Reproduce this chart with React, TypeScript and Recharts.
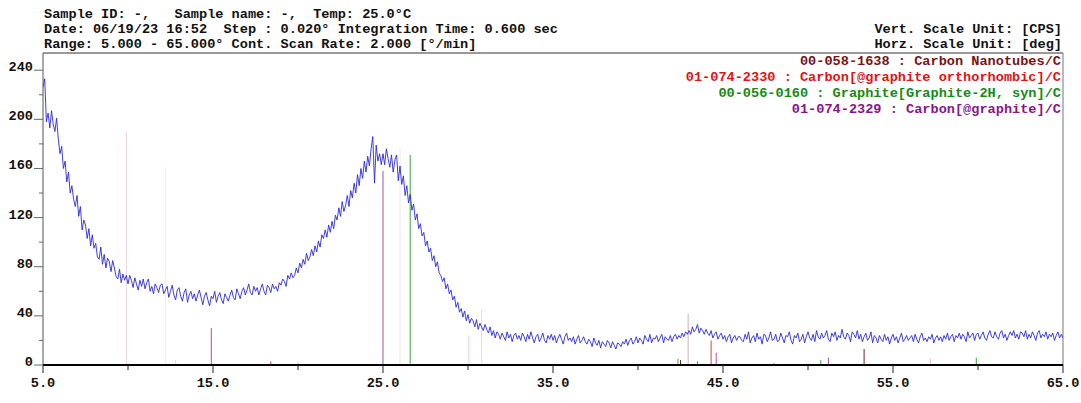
import React from 'react';
import { ComposedChart, Line, XAxis, YAxis, ReferenceLine } from 'recharts';

// Scan settings (2-theta start and reading spacing used for the transcribed intensities)
const SCAN_START = 5.0;
const SCAN_STEP = 0.1;

// Intensity [CPS], one row per degree (5.0 .. 64.9) plus the final 65.0 point
const intensity: number[] = [
  226, 233, 198, 205, 193, 207, 196, 190, 201, 184,
  172, 178, 160, 166, 149, 157, 140, 146, 135, 129,
  138, 121, 129, 110, 118, 114, 103, 111, 97, 106,
  95, 99, 88, 86, 96, 82, 90, 79, 87, 84,
  76, 85, 79, 72, 70, 78, 67, 74, 69, 73,
  66, 73, 69, 63, 71, 66, 61, 69, 64, 70,
  62, 67, 70, 60, 64, 58, 66, 63, 59, 65,
  66, 58, 61, 64, 55, 60, 65, 57, 53, 61,
  63, 56, 52, 59, 62, 51, 57, 60, 54, 58,
  52, 57, 61, 55, 49, 56, 59, 53, 48, 56,
  54, 60, 51, 56, 59, 53, 50, 58, 55, 52,
  57, 61, 55, 53, 62, 58, 54, 60, 63, 57,
  61, 66, 59, 57, 64, 60, 63, 57, 62, 66,
  60, 57, 65, 63, 59, 66, 62, 64, 60, 67,
  65, 70, 68, 64, 73, 70, 75, 71, 73, 79,
  75, 83, 79, 86, 82, 91, 85, 88, 94, 89,
  97, 92, 101, 96, 106, 103, 110, 104, 114, 108,
  117, 111, 122, 118, 128, 121, 133, 125, 130, 138,
  129, 142, 136, 148, 140, 155, 146, 160, 152, 166,
  157, 170, 162, 176, 186, 148, 179, 166, 172, 163,
  172, 163, 176, 168, 161, 171, 157, 167, 171, 150,
  162, 147, 154, 138, 146, 132, 139, 126, 131, 118,
  123, 111, 115, 105, 108, 97, 101, 92, 95, 85,
  89, 80, 84, 75, 73, 68, 71, 62, 66, 58,
  61, 53, 56, 47, 51, 43, 46, 39, 44, 36,
  41, 34, 38, 36, 31, 37, 29, 34, 31, 28,
  33, 29, 26, 31, 24, 28, 22, 27, 25, 21,
  26, 23, 20, 27, 22, 25, 19, 24, 26, 21,
  24, 20, 26, 23, 19, 25, 21, 27, 22, 18,
  23, 25, 19, 22, 26, 20, 18, 24, 21, 25,
  20, 24, 18, 22, 25, 21, 17, 23, 26, 20,
  22, 19, 23, 17, 21, 24, 18, 20, 23, 19,
  17, 21, 19, 15, 22, 18, 16, 20, 14, 19,
  17, 15, 20, 18, 14, 19, 16, 13, 18, 17,
  15, 19, 17, 21, 16, 20, 22, 17, 19, 23,
  18, 22, 20, 17, 24, 21, 19, 25, 18, 22,
  21, 24, 19, 22, 25, 18, 23, 21, 20, 24,
  19, 23, 25, 21, 24, 22, 26, 23, 27, 25,
  28, 25, 31, 27, 29, 33, 26, 30, 28, 25,
  29, 26, 24, 28, 22, 25, 27, 21, 24, 26,
  21, 24, 19, 23, 25, 18, 22, 24, 20, 23,
  23, 20, 19, 25, 21, 27, 18, 22, 24, 19,
  26, 21, 23, 17, 25, 24, 19, 22, 27, 20,
  21, 25, 19, 20, 26, 22, 18, 24, 23, 27,
  20, 17, 24, 22, 26, 19, 21, 25, 18, 23,
  27, 22, 20, 25, 19, 28, 23, 21, 26, 22,
  24, 28, 21, 19, 26, 23, 27, 20, 24, 22,
  29, 23, 21, 26, 24, 19, 27, 25, 22, 28,
  21, 25, 19, 23, 26, 20, 22, 27, 18, 24,
  22, 18, 24, 21, 19, 25, 20, 23, 17, 22,
  25, 20, 23, 18, 22, 26, 19, 21, 24, 20,
  22, 24, 19, 25, 21, 18, 23, 26, 20, 22,
  19, 23, 21, 25, 18, 22, 24, 20, 23, 19,
  24, 21, 26, 20, 23, 25, 19, 24, 22, 26,
  21, 25, 23, 19, 27, 22, 24, 26, 20, 25,
  26, 21, 24, 27, 22, 20, 25, 28, 23, 22,
  27, 23, 21, 26, 28, 22, 25, 20, 24, 27,
  24, 28, 22, 25, 21, 27, 26, 23, 28, 21,
  25, 22, 27, 24, 20, 26, 28, 22, 25, 23,
  27, 21, 25, 23, 26, 20, 24, 27, 22, 25,
  22,
];

// Reference card stick patterns: [2theta, intensity]
const cntSticks: [number, number][] = [[42.5, 4], [53.3, 13]];
const orthoSticks: [number, number][] = [[18.4, 3], [43.5, 3], [44.3, 20], [48.0, 1.5]];
const graphite2HSticks: [number, number][] = [[26.6, 171], [42.35, 5], [50.75, 4], [59.9, 6]];
const graphiteSticks: [number, number][] = [[14.9, 30], [25.0, 158], [44.6, 10], [51.2, 6]];
const faintSticks: [number, number, string][] = [
  [9.9, 190, '#ecd2e2'],
  [12.2, 161, '#f0eeee'],
  [12.8, 4, '#dddddd'],
  [20.0, 2, '#bbbbbb'],
  [26.0, 177, '#f2e4ea'],
  [30.05, 24, '#f0c8d8'],
  [30.8, 45, '#f2d6dc'],
  [42.95, 42, '#c8b2ba'],
  [57.2, 5, '#f0b8c8'],
];

const xTicks = [5, 10, 15, 20, 25, 30, 35, 40, 45, 50, 55, 60, 65];
const xLabelled = [5, 15, 25, 35, 45, 55, 65];
const yTicks = [0, 20, 40, 60, 80, 100, 120, 140, 160, 180, 200, 220, 240];
const yLabelled = [0, 40, 80, 120, 160, 200, 240];

const headerLeft = [
  'Sample ID: -,   Sample name: -,  Temp: 25.0°C',
  'Date: 06/19/23 16:52  Step : 0.020° Integration Time: 0.600 sec',
  'Range: 5.000 - 65.000° Cont. Scan Rate: 2.000 [°/min]',
];
const headerRight = ['Vert. Scale Unit: [CPS]', 'Horz. Scale Unit: [deg]'];
const cardLabels = [
  '00-058-1638 : Carbon Nanotubes/C',
  '01-074-2330 : Carbon[@graphite orthorhombic]/C',
  '00-056-0160 : Graphite[Graphite-2H, syn]/C',
  '01-074-2329 : Carbon[@graphite]/C',
];
const cardColors = ['#781414', '#e01414', '#148a14', '#8a148a'];
const stickColors = ['#7a2020', '#e04040', '#40a040', '#a850a8'];

const data = intensity.map((v, i) => ({ x: Math.round((SCAN_START + i * SCAN_STEP) * 100) / 100, y: v }));

const FONT = '"Liberation Mono", "DejaVu Sans Mono", monospace';

const XTick = (props: any) => {
  const { x, y, payload } = props;
  const major = xLabelled.includes(payload.value);
  return (
    <g>
      <line x1={x} y1={y} x2={x} y2={y + (major ? 8 : 5)} stroke="#222" strokeWidth={1} />
      {major && (
        <text x={x} y={y + 22} textAnchor="middle" fontFamily={FONT} fontSize={13.6} fontWeight="bold" fill="#111">
          {payload.value.toFixed(1)}
        </text>
      )}
    </g>
  );
};

const YTick = (props: any) => {
  const { x, y, payload } = props;
  const major = yLabelled.includes(payload.value);
  return (
    <g>
      <line x1={x} y1={y} x2={x - (major ? 9 : 4)} y2={y} stroke="#666" strokeWidth={1} />
      {major && (
        <text x={x - 10} y={y + 1} textAnchor="end" fontFamily={FONT} fontSize={13.6} fontWeight="bold" fill="#111">
          {payload.value}
        </text>
      )}
    </g>
  );
};

const textStyle: React.CSSProperties = {
  position: 'absolute',
  fontFamily: FONT,
  fontSize: 13.6,
  fontWeight: 'bold',
  lineHeight: '15px',
  whiteSpace: 'pre',
  color: '#111',
};

export default function App() {
  const sticks: { x: number; h: number; c: string }[] = [];
  faintSticks.forEach(([x, h, c]) => sticks.push({ x, h, c }));
  cntSticks.forEach(([x, h]) => sticks.push({ x, h, c: stickColors[0] }));
  orthoSticks.forEach(([x, h]) => sticks.push({ x, h, c: stickColors[1] }));
  graphite2HSticks.forEach(([x, h]) => sticks.push({ x, h, c: stickColors[2] }));
  graphiteSticks.forEach(([x, h]) => sticks.push({ x, h, c: stickColors[3] }));

  return (
    <div style={{ position: 'absolute', left: 0, top: 0, width: 1081, height: 403, background: '#fff', overflow: 'hidden' }}>
      <ComposedChart width={1081} height={403} data={data} margin={{ top: 53, right: 18, bottom: 0, left: 0 }}>
        <XAxis
          dataKey="x"
          type="number"
          domain={[5, 65]}
          ticks={xTicks}
          interval={0}
          height={38}
          tickSize={0}
          tickMargin={0}
          tickLine={false}
          tick={<XTick />}
          axisLine={{ stroke: '#000', strokeWidth: 2 }}
          allowDataOverflow
        />
        <YAxis
          type="number"
          domain={[0, 254]}
          ticks={yTicks}
          interval={0}
          width={43}
          tickSize={0}
          tickMargin={0}
          tickLine={false}
          tick={<YTick />}
          axisLine={{ stroke: '#555', strokeWidth: 1 }}
          allowDataOverflow
        />
        <ReferenceLine y={254} stroke="#333" strokeWidth={1} />
        <ReferenceLine x={65} stroke="#777" strokeWidth={1} />
        {sticks.map((s, i) => (
          <ReferenceLine
            key={i}
            segment={[{ x: s.x, y: 0 }, { x: s.x, y: s.h }]}
            stroke={s.c}
            strokeWidth={1}
            ifOverflow="visible"
          />
        ))}
        <Line
          type="linear"
          dataKey="y"
          stroke="#2a2ad8"
          strokeWidth={0.9}
          dot={false}
          isAnimationActive={false}
        />
      </ComposedChart>
      {headerLeft.map((t, i) => (
        <div key={'hl' + i} style={{ ...textStyle, left: 44, top: 7 + i * 15 }}>{t}</div>
      ))}
      {headerRight.map((t, i) => (
        <div key={'hr' + i} style={{ ...textStyle, right: 19, top: 22 + i * 15 }}>{t}</div>
      ))}
      {cardLabels.map((t, i) => (
        <div key={'cl' + i} style={{ ...textStyle, right: 20, top: 54 + i * 16, color: cardColors[i] }}>{t}</div>
      ))}
    </div>
  );
}
